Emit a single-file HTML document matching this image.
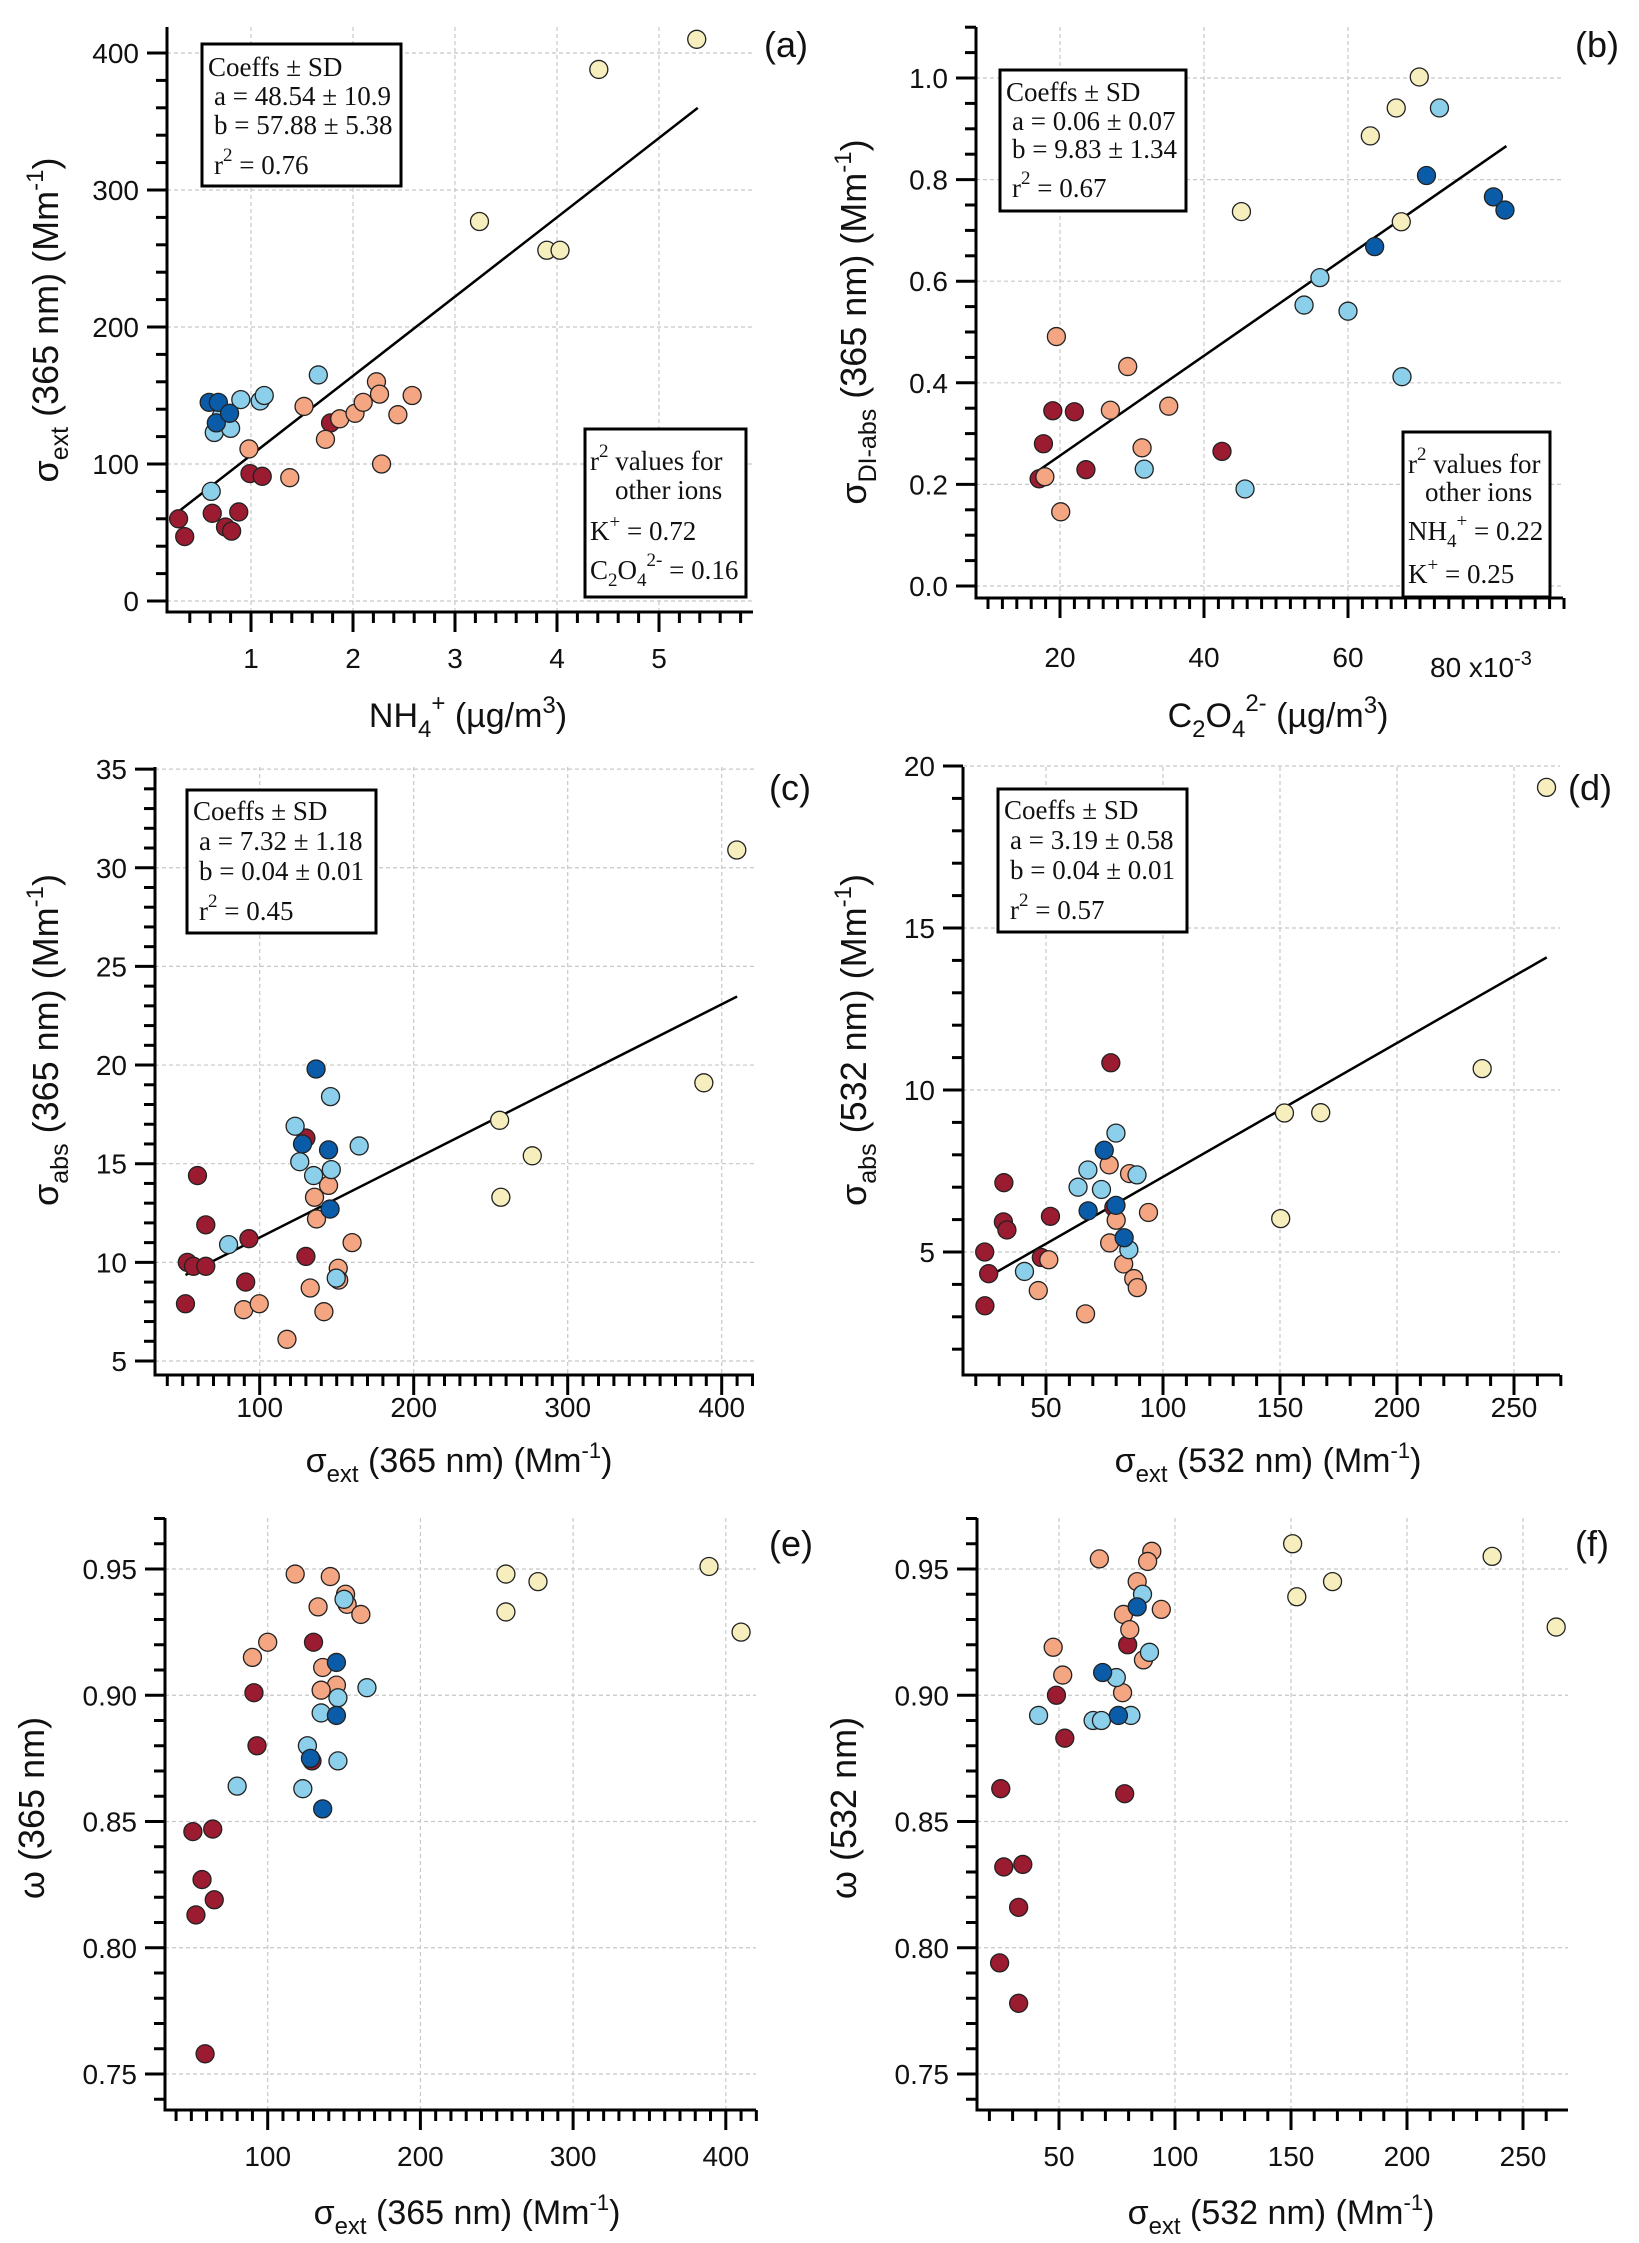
<!DOCTYPE html>
<html><head><meta charset="utf-8">
<style>
html,body{margin:0;padding:0;background:#fff;}
svg{display:block;font-family:"Liberation Sans",sans-serif;}
</style></head>
<body>
<svg id="fig" width="1639" height="2243" viewBox="0 0 1639 2243" xmlns="http://www.w3.org/2000/svg"></svg>
<script>
// ---------- DATA ----------
const aRedX=[0.29,0.35,0.62,0.75,0.81,0.88,0.99,1.11,1.78];
const aRedY=[60,47,64,54,51,65,93,91,130];
const aOrgX=[0.98,1.38,1.52,1.73,1.87,2.02,2.10,2.23,2.26,2.28,2.44,2.58];
const aOrgY=[111,90,142,118,133,137,145,160,151,100,136,150];
const aLbX=[0.61,0.64,0.71,0.80,0.90,1.09,1.13,1.66];
const aLbY=[80,123,135,126,147,146,150,165];
const aDbX=[0.59,0.68,0.66,0.79];
const aDbY=[145,145,130,137];
const aCrX=[3.24,3.90,4.03,4.41,5.37];
const aCrY=[277,256,256,388,410];
const aFit=[48.54,57.88]; const aFitRange=[0.29,5.38];
const bRedX=[17.1,17.7,19.0,22.0,23.6,42.5];
const bRedY=[0.211,0.28,0.345,0.343,0.229,0.265];
const bOrgX=[17.9,19.5,20.1,27.0,29.4,31.4,35.1];
const bOrgY=[0.215,0.491,0.146,0.346,0.432,0.272,0.354];
const bLbX=[31.7,45.7,53.9,56.1,60.0,67.5,72.7];
const bLbY=[0.230,0.191,0.553,0.607,0.541,0.412,0.941];
const bDbX=[63.7,70.9,80.2,81.8];
const bDbY=[0.668,0.808,0.766,0.740];
const bCrX=[45.2,63.1,66.7,69.9,67.4];
const bCrY=[0.737,0.886,0.941,1.002,0.717];
const bFit=[0.06,0.00983]; const bFitRange=[17,82];
const cRedX=[51.8,53,57,65,59.6,65,90.9,93,130,130];
const cRedY=[7.9,10.0,9.8,9.8,14.4,11.9,9.0,11.2,10.3,16.3];
const cOrgX=[89.6,99.7,117.7,132.8,135.6,136.9,141.7,144.7,151,151.3,160];
const cOrgY=[7.6,7.9,6.1,8.7,13.3,12.2,7.5,13.9,9.7,9.1,11.0];
const cLbX=[79.8,123,126,135,146,146.5,164.6,149.7];
const cLbY=[10.9,16.9,15.1,14.4,18.4,14.7,15.9,9.2];
const cDbX=[136.6,127.8,144.7,145.7];
const cDbY=[19.8,16.0,15.7,12.7];
const cCrX=[255.8,256.6,277,388.4,409.8];
const cCrY=[17.2,13.3,15.4,19.1,30.9];
const cFit=[7.32,0.0394]; const cFitRange=[51.8,410];
const dRedX=[23.9,23.8,25.5,31.8,33.3,32,48,51.9,77.7,79];
const dRedY=[3.34,5.0,4.33,5.93,5.68,7.14,4.83,6.1,10.84,6.38];
const dOrgX=[46.7,51.2,66.9,77,77.2,80,83.2,85.7,87.5,89,93.8];
const dOrgY=[3.81,4.76,3.09,7.69,5.28,5.98,4.63,7.42,4.18,3.9,6.22];
const dLbX=[40.8,63.7,67.9,73.7,79.9,85.4,88.9];
const dLbY=[4.4,7.0,7.53,6.93,8.67,5.07,7.38];
const dDbX=[68,74.9,79.9,83.4];
const dDbY=[6.27,8.14,6.44,5.44];
const dCrX=[151.9,167.4,150.3,236.4,263.9];
const dCrY=[9.29,9.3,6.03,10.66,19.34];
const dFit=[3.19,0.0413]; const dFitRange=[25.5,264];
const eRedX=[51,64,57,53,65,59,91,93,130,129];
const eRedY=[0.846,0.847,0.827,0.813,0.819,0.758,0.901,0.880,0.921,0.874];
const eOrgX=[118,141,90,100,133,151,152,161,136,145,135];
const eOrgY=[0.948,0.947,0.915,0.921,0.935,0.940,0.936,0.932,0.911,0.904,0.902];
const eLbX=[80,123,126,135,146,146,165,150];
const eLbY=[0.864,0.863,0.880,0.893,0.874,0.899,0.903,0.938];
const eDbX=[145,145,136,128];
const eDbY=[0.913,0.892,0.855,0.875];
const eCrX=[256,256,277,389,410];
const eCrY=[0.948,0.933,0.945,0.951,0.925];
const fRedX=[24.9,26.2,34.4,32.6,24.4,32.6,48.9,52.5,79.6,78.3];
const fRedY=[0.863,0.832,0.833,0.816,0.794,0.778,0.900,0.883,0.920,0.861];
const fOrgX=[47.5,51.6,67.4,90,88.2,83.7,77.8,80.5,94.1,86.4,77.4];
const fOrgY=[0.919,0.908,0.954,0.957,0.953,0.945,0.932,0.926,0.934,0.914,0.901];
const fLbX=[41.2,64.7,68.3,74.7,81,86,89];
const fLbY=[0.892,0.890,0.890,0.907,0.892,0.940,0.917];
const fDbX=[68.8,75.6,83.7];
const fDbY=[0.909,0.892,0.935];
const fCrX=[150.7,152.5,167.9,236.7,264.3];
const fCrY=[0.960,0.939,0.945,0.955,0.927];
const aXTicks=[1,2,3,4,5]; const aYTicks=[0,100,200,300,400];
const bXTicks=[20,40,60]; const bYTicks=[0,0.2,0.4,0.6,0.8,1.0];
const cXTicks=[100,200,300,400]; const cYTicks=[5,10,15,20,25,30,35];
const dXTicks=[50,100,150,200,250]; const dYTicks=[5,10,15,20];
const eXTicks=[100,200,300,400]; const eYTicks=[0.75,0.80,0.85,0.90,0.95];
const fXTicks=[50,100,150,200,250]; const fYTicks=[0.75,0.80,0.85,0.90,0.95];

const COLORS={red:'#9b1b30',org:'#f4a582',lb:'#8ccfea',db:'#0b5ca8',cr:'#f6eebd'};
const NS='http://www.w3.org/2000/svg';
const svg=document.getElementById('fig');
function mk(tag,attrs,parent){const e=document.createElementNS(NS,tag);for(const k in attrs)e.setAttribute(k,attrs[k]);(parent||svg).appendChild(e);return e;}

function panel(P){
  const g=mk('g',{});
  
  
  const sx=v=>P.x0+(v-P.xv0)*P.xs;
  const sy=v=>P.y0-(v-P.yv0)*P.ys;
  P.xt.forEach(v=>{const l=mk('line',{x1:sx(v),x2:sx(v),y1:P.top,y2:P.axY,stroke:'#c8c8c8','stroke-width':1.2,'stroke-dasharray':'4 3'},g);
    
    });
  P.yt.forEach(v=>{const l=mk('line',{x1:P.axX,x2:P.right,y1:sy(v),y2:sy(v),stroke:'#c8c8c8','stroke-width':1.2,'stroke-dasharray':'4 3'},g);
    
    });
  const ax=mk('path',{d:`M${P.axX},${P.top}V${P.axY}H${P.right}`,fill:'none',stroke:'#000','stroke-width':3},g);
  
  
  for(let v=P.xm[0];v<=P.xm[1]+1e-9;v+=P.xm[2]){const X=sx(v);if(X<P.axX+3||X>P.right+1)continue;
    const major=P.xt.some(t=>Math.abs(t-v)<1e-6);
    mk('line',{x1:X,x2:X,y1:P.axY,y2:P.axY+(major?20:11),stroke:'#000','stroke-width':3},g);}
  for(let v=P.ym[0];v<=P.ym[1]+1e-9;v+=P.ym[2]){const Y=sy(v);if(Y>P.axY-2||Y<P.top-1)continue;
    const major=P.yt.some(t=>Math.abs(t-v)<1e-6);
    mk('line',{x1:P.axX,x2:P.axX-(major?20:11),y1:Y,y2:Y,stroke:'#000','stroke-width':3},g);}
  P.xt.forEach((v,i)=>{const t=mk('text',{x:sx(v),y:P.xlabY,'font-size':28,'text-anchor':'middle',fill:'#111'},g);t.textContent=P.xtl[i];
    
    });
  P.yt.forEach((v,i)=>{const t=mk('text',{x:P.axX-28,y:sy(v)+10,'font-size':28,'text-anchor':'end',fill:'#111'},g);t.textContent=P.ytl[i];
    
    });
  if(P.fit){const l=mk('line',{x1:sx(P.fitR[0]),y1:sy(P.fit[0]+P.fit[1]*P.fitR[0]),x2:sx(P.fitR[1]),y2:sy(P.fit[0]+P.fit[1]*P.fitR[1]),stroke:'#000','stroke-width':2.5},g);
    
    }
  P.series.forEach(s=>{s.x.forEach((xv,i)=>{const c=mk('circle',{cx:sx(xv),cy:sy(s.y[i]),r:9,fill:COLORS[s.c],stroke:'#222','stroke-width':1.3},g);
    
    });});
  const pl=mk('text',{x:P.lab[0],y:P.lab[1],'font-size':36,'text-anchor':'middle',fill:'#111'},g);pl.textContent='('+P.id+')';
  
  
  return g;
}
function rich(html,attrs,name){const t=mk('text',attrs);t.innerHTML=html;
  
  return t;}
function box(x,y,w,h,name){const r=mk('rect',{x:x,y:y,width:w,height:h,fill:'#fff',stroke:'#000','stroke-width':3});
  
  }

panel({id:'a',axX:167,axY:612,top:27,right:753,x0:149,xv0:0,xs:102,y0:601,yv0:0,ys:1.37,
  xt:aXTicks,xtl:aXTicks.map(String),yt:aYTicks,ytl:aYTicks.map(String),xm:[0.2,5.8,0.2],ym:[0,420,20],xlabY:668,
  fit:aFit,fitR:aFitRange,lab:[786,57],
  series:[{c:'red',x:aRedX,y:aRedY},{c:'org',x:aOrgX,y:aOrgY},{c:'lb',x:aLbX,y:aLbY},{c:'db',x:aDbX,y:aDbY},{c:'cr',x:aCrX,y:aCrY}]});
panel({id:'b',axX:976,axY:598,top:27,right:1563,x0:916,xv0:0,xs:7.2,y0:586,yv0:0,ys:508,
  xt:bXTicks,xtl:bXTicks.map(String),yt:bYTicks,ytl:bYTicks.map(v=>v.toFixed(1)),xm:[10,90,2],ym:[0,1.1,0.05],xlabY:667,
  fit:[bFit[0],bFit[1]],fitR:bFitRange,lab:[1597,57],
  series:[{c:'red',x:bRedX,y:bRedY},{c:'org',x:bOrgX,y:bOrgY},{c:'lb',x:bLbX,y:bLbY},{c:'db',x:bDbX,y:bDbY},{c:'cr',x:bCrX,y:bCrY}]});
panel({id:'c',axX:155,axY:1375,top:767,right:754,x0:105.7,xv0:0,xs:1.54,y0:1361,yv0:5,ys:19.73,
  xt:cXTicks,xtl:cXTicks.map(String),yt:cYTicks,ytl:cYTicks.map(String),xm:[40,420,10],ym:[5,35,1],xlabY:1417,
  fit:cFit,fitR:cFitRange,lab:[790,800],
  series:[{c:'red',x:cRedX,y:cRedY},{c:'org',x:cOrgX,y:cOrgY},{c:'lb',x:cLbX,y:cLbY},{c:'db',x:cDbX,y:cDbY},{c:'cr',x:cCrX,y:cCrY}]});
panel({id:'d',axX:963,axY:1375,top:767,right:1560,x0:929,xv0:0,xs:2.34,y0:1252,yv0:5,ys:32.4,
  xt:dXTicks,xtl:dXTicks.map(String),yt:dYTicks,ytl:dYTicks.map(String),xm:[20,270,10],ym:[2,20,1],xlabY:1417,
  fit:dFit,fitR:dFitRange,lab:[1590,800],
  series:[{c:'red',x:dRedX,y:dRedY},{c:'org',x:dOrgX,y:dOrgY},{c:'lb',x:dLbX,y:dLbY},{c:'db',x:dDbX,y:dDbY},{c:'cr',x:dCrX,y:dCrY}]});
panel({id:'e',axX:165,axY:2110,top:1518,right:756,x0:115,xv0:0,xs:1.527,y0:1569,yv0:0.95,ys:2525,
  xt:eXTicks,xtl:eXTicks.map(String),yt:eYTicks,ytl:eYTicks.map(v=>v.toFixed(2)),xm:[40,420,10],ym:[0.74,0.97,0.01],xlabY:2166,
  lab:[791,1556],
  series:[{c:'red',x:eRedX,y:eRedY},{c:'org',x:eOrgX,y:eOrgY},{c:'lb',x:eLbX,y:eLbY},{c:'db',x:eDbX,y:eDbY},{c:'cr',x:eCrX,y:eCrY}]});
panel({id:'f',axX:977,axY:2110,top:1518,right:1568,x0:943,xv0:0,xs:2.32,y0:1569,yv0:0.95,ys:2525,
  xt:fXTicks,xtl:fXTicks.map(String),yt:fYTicks,ytl:fYTicks.map(v=>v.toFixed(2)),xm:[20,270,10],ym:[0.74,0.97,0.01],xlabY:2166,
  lab:[1592,1556],
  series:[{c:'red',x:fRedX,y:fRedY},{c:'org',x:fOrgX,y:fOrgY},{c:'lb',x:fLbX,y:fLbY},{c:'db',x:fDbX,y:fDbY},{c:'cr',x:fCrX,y:fCrY}]});

rich('80 x10<tspan dy="-12" font-size="20">-3</tspan>',{x:1430,y:677,'font-size':28,fill:'#111'},'x-tick-label-80');

const T='font-size';
rich('NH<tspan dy="10" font-size="24">4</tspan><tspan dy="-26" font-size="24">+</tspan><tspan dy="16"> (µg/m</tspan><tspan dy="-14" font-size="24">3</tspan><tspan dy="14">)</tspan>',{x:468,y:727,[T]:34,'text-anchor':'middle',fill:'#111'},'x-axis-title-a');
rich('C<tspan dy="10" font-size="24">2</tspan><tspan dy="-10">O</tspan><tspan dy="10" font-size="24">4</tspan><tspan dy="-26" font-size="24">2-</tspan><tspan dy="16"> (µg/m</tspan><tspan dy="-14" font-size="24">3</tspan><tspan dy="14">)</tspan>',{x:1278,y:727,[T]:34,'text-anchor':'middle',fill:'#111'},'x-axis-title-b');
const sigExt=(nm)=>'σ<tspan dy="10" font-size="24">ext</tspan><tspan dy="-10"> ('+nm+' nm) (Mm</tspan><tspan dy="-14" font-size="22">-1</tspan><tspan dy="14">)</tspan>';
rich(sigExt(365),{x:459,y:1472,[T]:34,'text-anchor':'middle',fill:'#111'},'x-axis-title-c');
rich(sigExt(532),{x:1268,y:1472,[T]:34,'text-anchor':'middle',fill:'#111'},'x-axis-title-d');
rich(sigExt(365),{x:467,y:2224,[T]:34,'text-anchor':'middle',fill:'#111'},'x-axis-title-e');
rich(sigExt(532),{x:1281,y:2224,[T]:34,'text-anchor':'middle',fill:'#111'},'x-axis-title-f');

function ytitle(html,cx,cy,name){rich(html,{x:0,y:0,[T]:36,'text-anchor':'middle',fill:'#111',transform:`translate(${cx},${cy}) rotate(-90)`},name);}
const sigY=(sub,nm)=>'σ<tspan dy="10" font-size="25">'+sub+'</tspan><tspan dy="-10"> ('+nm+' nm) (Mm</tspan><tspan dy="-15" font-size="24">-1</tspan><tspan dy="15">)</tspan>';
ytitle(sigY('ext','365'),58,320,'y-axis-title-a');
ytitle(sigY('DI-abs','365'),866,322,'y-axis-title-b');
ytitle(sigY('abs','365'),58,1040,'y-axis-title-c');
ytitle(sigY('abs','532'),866,1040,'y-axis-title-d');
ytitle('ω (365 nm)',44,1808,'y-axis-title-e');
ytitle('ω (532 nm)',856,1808,'y-axis-title-f');

function statBox(x,y,w,h,lines,name){box(x,y,w,h,name);
  lines.forEach((l,i)=>rich(l[0],{x:x+l[1],y:y+l[2],[T]:27,fill:'#111','font-family':'"Liberation Serif",serif'},name+'-line'));}
const sup2='r<tspan dy="-13" font-size="19">2</tspan><tspan dy="13"> = ';
statBox(202,44,199,142,[['Coeffs ± SD',6,32],['a = 48.54 ± 10.9',12,61],['b = 57.88 ± 5.38',12,90],[sup2+'0.76</tspan>',12,130]],'coeff-box-a');
statBox(1000,70,186,141,[['Coeffs ± SD',6,31],['a = 0.06 ± 0.07',12,60],['b = 9.83 ± 1.34',12,88],[sup2+'0.67</tspan>',12,127]],'coeff-box-b');
statBox(187,790,189,143,[['Coeffs ± SD',6,30],['a = 7.32 ± 1.18',12,60],['b = 0.04 ± 0.01',12,90],[sup2+'0.45</tspan>',12,130]],'coeff-box-c');
statBox(998,789,189,143,[['Coeffs ± SD',6,30],['a = 3.19 ± 0.58',12,60],['b = 0.04 ± 0.01',12,90],[sup2+'0.57</tspan>',12,130]],'coeff-box-d');
statBox(585,429,161,168,[['r<tspan dy="-13" font-size="19">2</tspan><tspan dy="13"> values for</tspan>',5,41],['other ions',30,70],['K<tspan dy="-12" font-size="19">+</tspan><tspan dy="12"> = 0.72</tspan>',5,111],['C<tspan dy="7" font-size="19">2</tspan><tspan dy="-7">O</tspan><tspan dy="7" font-size="19">4</tspan><tspan dy="-20" font-size="19">2-</tspan><tspan dy="13"> = 0.16</tspan>',5,150]],'r2-box-a');
statBox(1403,432,147,165,[['r<tspan dy="-13" font-size="19">2</tspan><tspan dy="13"> values for</tspan>',5,41],['other ions',22,69],['NH<tspan dy="7" font-size="19">4</tspan><tspan dy="-20" font-size="19">+</tspan><tspan dy="13"> = 0.22</tspan>',5,108],['K<tspan dy="-12" font-size="19">+</tspan><tspan dy="12"> = 0.25</tspan>',5,151]],'r2-box-b');
</script>
</body></html>
